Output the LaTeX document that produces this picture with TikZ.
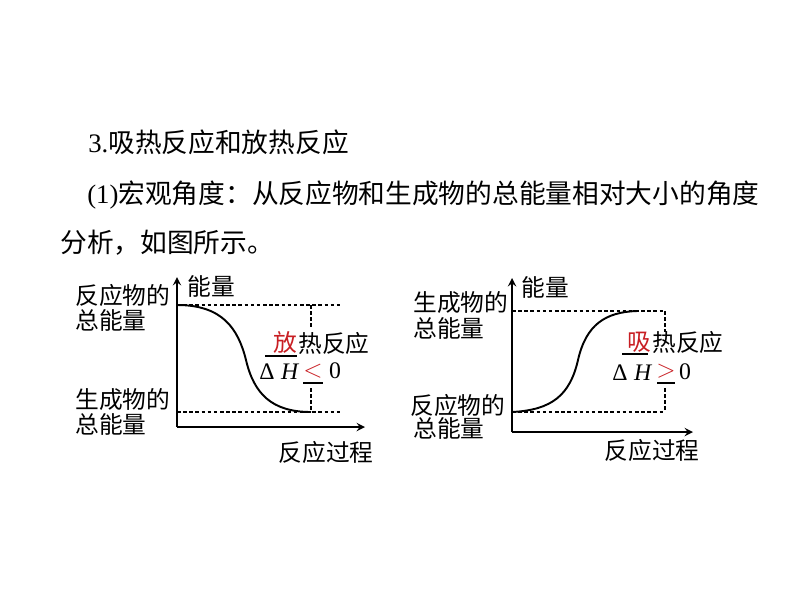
\documentclass[tikz,border=0pt]{standalone}
\usepackage{fontspec}
\setmainfont{Liberation Serif}
\newfontfamily\cjk{Noto Sans CJK SC}
\usetikzlibrary{arrows}
\definecolor{ansred}{RGB}{200,30,35}
\tikzset{
  body/.style={anchor=west,inner sep=0pt,font=\cjk\fontsize{15.2}{18}\selectfont},
  lbl/.style={inner sep=0pt,font=\cjk\fontsize{13.5}{16}\selectfont},
  axis/.style={->,line width=1.1pt},
  guide/.style={dash pattern=on 2pt off 1.5pt,line width=0.7pt},
  curve/.style={line width=1.1pt},
  blank/.style={line width=0.8pt}
}

\begin{document}
\begin{tikzpicture}[x=0.02cm,y=-0.02cm,>=stealth]
    \useasboundingbox (0,0) rectangle (794,603);
    % text above
    \node[body] (title)  at (88,142)  {{\rmfamily 3.}吸热反应和放热反应};
    \node[body] (intro)  at (87,195)  {{\rmfamily (1)}宏观角度：从反应物和生成物的总能量相对大小的角度};
    \node[body] (introb) at (60,243)  {分析，如图所示。};

    % left: exothermic
    \coordinate (lO)  at (177,427);
    \coordinate (lY)  at (177,277);
    \coordinate (lX)  at (365,427);
    \coordinate (lT0) at (177,305);
    \coordinate (lT1) at (311,305);
    \coordinate (lT2) at (343,305);
    \coordinate (lB0) at (177,412);
    \coordinate (lB1) at (311,412);
    \coordinate (lB2) at (343,412);
    \coordinate (lM1) at (311,329);
    \coordinate (lM2) at (311,388);
    \draw[axis] (lO) -- (lY);
    \draw[axis] (lO) -- (lX);
    \draw[guide] (lT0) -- (lT2);
    \draw[guide] (lB0) -- (lB2);
    \draw[guide] (lT1) -- (lM1);
    \draw[guide] (lM2) -- (lB1);
    \draw[curve] (lT0) .. controls (222,305) and (238,328) .. (246,360)
                       .. controls (254,394) and (272,412) .. (lB1);
    \node[lbl] (lE) at (211,286) {能量};
    \node[lbl,anchor=west] (lR1) at (75,295) {反应物的};
    \node[lbl,anchor=west] (lR2) at (75,320) {总能量};
    \node[lbl,anchor=west] (lP1) at (75,400) {生成物的};
    \node[lbl,anchor=west] (lP2) at (75,424) {总能量};
    \node[lbl] (lPro) at (326,452) {反应过程};
    \node[lbl,text=ansred] (lFang) at (285,342) {放};
    \node[lbl,anchor=west] (lRe) at (298,343) {热反应};
    \node[lbl,anchor=west] (lDH) at (259,372) {\rmfamily Δ\;\textit{H}};
    \node[lbl,text=ansred] (lLt) at (313,371) {$<$};
    \node[lbl] (lZero) at (335,371) {\rmfamily 0};
    \coordinate (lU0) at (265,356);
    \coordinate (lU1) at (297,356);
    \coordinate (lV0) at (303,383);
    \coordinate (lV1) at (323,383);
    \draw[blank] (lU0) -- (lU1);
    \draw[blank] (lV0) -- (lV1);

    % right: endothermic
    \coordinate (rO)  at (512,432);
    \coordinate (rY)  at (512,278);
    \coordinate (rX)  at (693,432);
    \coordinate (rT0) at (512,311);
    \coordinate (rT1) at (637,311);
    \coordinate (rT2) at (665,311);
    \coordinate (rB0) at (512,412);
    \coordinate (rB2) at (665,412);
    \coordinate (rM1) at (665,332);
    \coordinate (rM2) at (665,388);
    \draw[axis] (rO) -- (rY);
    \draw[axis] (rO) -- (rX);
    \draw[guide] (rT0) -- (rT2);
    \draw[guide] (rB0) -- (rB2);
    \draw[guide] (rT2) -- (rM1);
    \draw[guide] (rM2) -- (rB2);
    \draw[curve] (rB0) .. controls (552,410) and (570,395) .. (578,360)
                       .. controls (586,325) and (605,312) .. (rT1);
    \node[lbl] (rE) at (545,287) {能量};
    \node[lbl,anchor=west] (rP1) at (413,303) {生成物的};
    \node[lbl,anchor=west] (rP2) at (413,328) {总能量};
    \node[lbl,anchor=west] (rR1) at (410,405) {反应物的};
    \node[lbl,anchor=west] (rR2) at (413,428) {总能量};
    \node[lbl] (rPro) at (652,450) {反应过程};
    \node[lbl,text=ansred] (rXi) at (639,342) {吸};
    \node[lbl,anchor=west] (rRe) at (652,342) {热反应};
    \node[lbl,anchor=west] (rDH) at (612,373) {\rmfamily Δ\;\textit{H}};
    \node[lbl,text=ansred] (rGt) at (666,371) {$>$};
    \node[lbl] (rZero) at (685,372) {\rmfamily 0};
    \coordinate (rU0) at (622,354);
    \coordinate (rU1) at (648,354);
    \coordinate (rV0) at (657,383);
    \coordinate (rV1) at (675,383);
    \draw[blank] (rU0) -- (rU1);
    \draw[blank] (rV0) -- (rV1);
\end{tikzpicture}
\end{document}
